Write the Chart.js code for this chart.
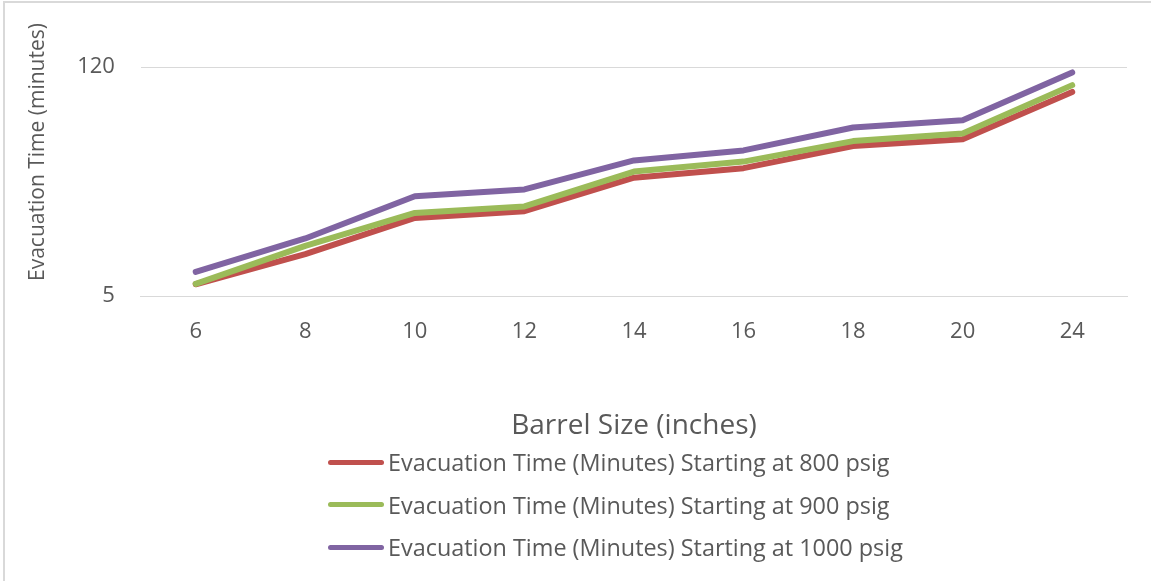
<!DOCTYPE html>
<html>
<head>
<meta charset="utf-8">
<script src="https://cdn.jsdelivr.net/npm/chart.js@4/dist/chart.umd.min.js"></script>
<style>
  html, body { margin: 0; padding: 0; background: #fff; }
  #wrap { position: relative; width: 1151px; height: 581px; overflow: hidden; }
  #frame { position: absolute; left: 3px; top: 1px; right: -5px; bottom: -5px; border-left: 2px solid #d9d9d9; border-top: 2px solid #d9d9d9; }
  canvas { position: absolute; left: 0; top: 0; }
  #legend { position: absolute; left: 328px; top: 441px; font-family: "Open Sans", sans-serif; font-size: 23.4px; color: #595959; }
  #legend .row { display: flex; align-items: center; height: 42.5px; }
  #legend .swatch { width: 56px; height: 5px; border-radius: 3px; margin-right: 4px; }
</style>
</head>
<body>
<div id="wrap">
  <div id="frame"></div>
  <canvas id="chart" width="1151" height="581"></canvas>
  <div id="legend"></div>
</div>
<script>
// ---------------- Data ----------------
const barrelSizes = ["6", "8", "10", "12", "14", "16", "18", "20", "24"];
const time800 = [10.9, 26.0, 44.2, 47.6, 64.4, 69.2, 80.3, 83.7, 107.5];
const time900 = [11.1, 30.2, 46.7, 50.0, 67.5, 72.5, 82.8, 86.6, 110.9];
const time1000 = [17.1, 33.9, 55.1, 58.5, 73.1, 78.1, 89.6, 93.3, 117.3];
const yTicks = [5, 120];

const seriesNames = [
  "Evacuation Time (Minutes) Starting at 800 psig",
  "Evacuation Time (Minutes) Starting at 900 psig",
  "Evacuation Time (Minutes) Starting at 1000 psig",
];
const seriesColors = ["#C0504D", "#9BBB59", "#8064A2"];
const yTitle = "Evacuation Time (minutes)";

const textColor = "#595959";
const fontFamily = "'Open Sans', sans-serif";

function makeSet(i, data) {
  return {
    label: seriesNames[i],
    data,
    borderColor: seriesColors[i],
    backgroundColor: seriesColors[i],
    borderWidth: 6,
    pointRadius: 0,
    tension: 0,
    fill: false,
    borderCapStyle: "round",
    borderJoinStyle: "round",
    order: 3 - i, // later series on top, like the original
  };
}

// y title sits a bit above the middle of the plot in the original
const yTitlePlugin = {
  id: "yTitle",
  afterDraw(chart) {
    const { ctx, chartArea, scales } = chart;
    ctx.save();
    ctx.translate(scales.y.left + 12, chartArea.top + 85);
    ctx.rotate(-Math.PI / 2);
    ctx.fillStyle = textColor;
    ctx.font = `21px ${fontFamily}`;
    ctx.textAlign = "center";
    ctx.textBaseline = "middle";
    ctx.fillText(yTitle, 0, 0);
    ctx.restore();
  },
};

const chart = new Chart(document.getElementById("chart"), {
  type: "line",
  data: {
    labels: barrelSizes,
    datasets: [makeSet(0, time800), makeSet(1, time900), makeSet(2, time1000)],
  },
  plugins: [yTitlePlugin],
  options: {
    responsive: false,
    animation: false,
    layout: { padding: { left: 26, right: 24, top: 67, bottom: 138 } },
    plugins: { legend: { display: false }, tooltip: { enabled: false } },
    scales: {
      x: {
        offset: true,
        grid: { display: false, drawTicks: false },
        border: { display: true, color: "#d9d9d9", width: 1 },
        ticks: { color: textColor, font: { family: fontFamily, size: 22 }, padding: 23 },
        title: {
          display: true,
          text: "Barrel Size (inches)",
          color: textColor,
          font: { family: fontFamily, size: 28 },
          padding: { top: 41, bottom: 0 },
        },
      },
      y: {
        min: 5,
        max: 120,
        afterBuildTicks: axis => { axis.ticks = yTicks.map(v => ({ value: v })); },
        grid: { color: "#d9d9d9", lineWidth: 1, drawTicks: false },
        border: { display: false },
        ticks: { color: textColor, font: { family: fontFamily, size: 22 }, padding: 26 },
        title: {
          // keeps the room for the title; the text itself is drawn by yTitlePlugin
          display: true,
          text: yTitle,
          color: "rgba(0,0,0,0)",
          font: { family: fontFamily, size: 21 },
          padding: { top: 0, bottom: 0 },
        },
      },
    },
  },
});

// ---------------- Legend ----------------
const legendEl = document.getElementById("legend");
chart.data.datasets.forEach(ds => {
  const row = document.createElement("div");
  row.className = "row";
  row.innerHTML = `<div class="swatch" style="background:${ds.borderColor}"></div><span>${ds.label}</span>`;
  legendEl.appendChild(row);
});
</script>
</body>
</html>
